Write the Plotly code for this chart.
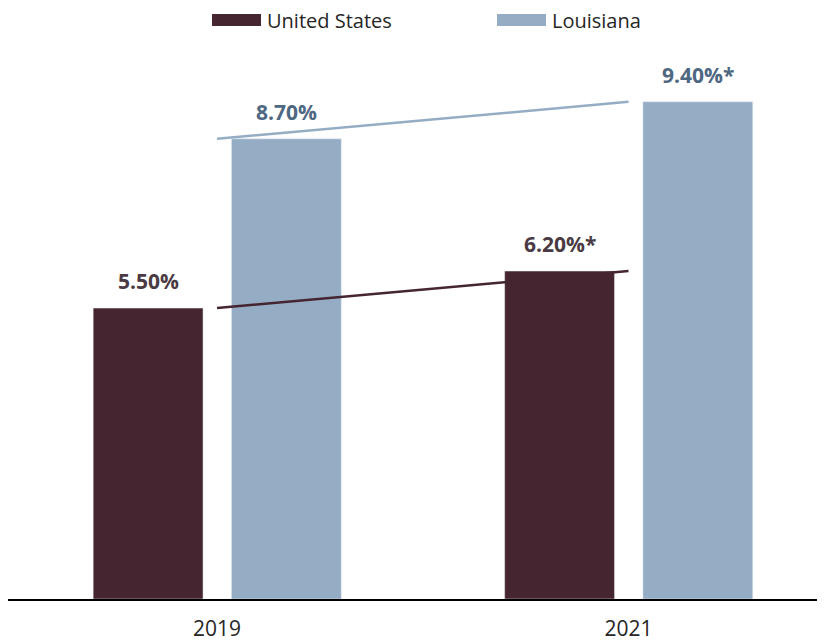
import plotly.graph_objects as go

years = ["2019", "2021"]
us_rate = [5.5, 6.2]
la_rate = [8.7, 9.4]
# asterisk flags on data labels
us_star = [False, True]
la_star = [False, True]

US_COL = "#45252F"
LA_COL = "#94ADC5"
US_TXT = "#4A3A43"
LA_TXT = "#4E6782"
FONT = "Open Sans"

x = list(range(len(years)))
W = 0.267


def labels(vals, stars):
    return [f"{v:.2f}%" + ("*" if s else "") for v, s in zip(vals, stars)]


fig = go.Figure()
fig.add_trace(go.Bar(x=x, y=us_rate, name="United States", marker_color=US_COL,
                     width=W, offset=-0.301, showlegend=False))
fig.add_trace(go.Bar(x=x, y=la_rate, name="Louisiana", marker_color=LA_COL,
                     width=W, offset=0.035, showlegend=False))
# trend lines between group centres
fig.add_trace(go.Scatter(x=x, y=us_rate, mode="lines", line=dict(color=US_COL, width=2.5),
                         showlegend=False, hoverinfo="skip"))
fig.add_trace(go.Scatter(x=x, y=la_rate, mode="lines", line=dict(color=LA_COL, width=2.5),
                         showlegend=False, hoverinfo="skip"))

# data labels above bars
for xi, v, t in zip(x, us_rate, labels(us_rate, us_star)):
    fig.add_annotation(x=xi - 0.301 + W / 2, y=v, text=f"<b>{t}</b>", showarrow=False,
                       yanchor="bottom", yshift=11, font=dict(family=FONT, size=21, color=US_TXT))
for xi, v, t in zip(x, la_rate, labels(la_rate, la_star)):
    fig.add_annotation(x=xi + 0.035 + W / 2, y=v, text=f"<b>{t}</b>", showarrow=False,
                       yanchor="bottom", yshift=11, font=dict(family=FONT, size=21, color=LA_TXT))

# legend drawn by hand to get the wide swatches (plot area spans screen x 8..833, y 60..599)
PW, PH = 825, 539
for x0, col, name in [(212, US_COL, "United States"), (497, LA_COL, "Louisiana")]:
    fig.add_shape(type="rect", xref="paper", yref="paper",
                  x0=(x0 - 8) / PW, x1=(x0 + 49 - 8) / PW,
                  y0=(599 - 26) / PH, y1=(599 - 14) / PH,
                  fillcolor=col, line_width=0)
    fig.add_annotation(xref="paper", yref="paper", x=(x0 + 53 - 8) / PW, y=(599 - 20) / PH,
                       xanchor="left", yanchor="middle", text=name, showarrow=False,
                       font=dict(family=FONT, size=20, color="#262626"))

fig.update_layout(
    width=825, height=641, barmode="overlay",
    margin=dict(l=0, r=0, t=52, b=50),
    plot_bgcolor="white", paper_bgcolor="white",
    font=dict(family=FONT, size=18, color="#262626"),
)
fig.update_xaxes(range=[-0.508, 1.497], tickvals=x, ticktext=years, showgrid=False,
                 zeroline=False, showline=True, linecolor="#000000", linewidth=1.5,
                 ticks="", ticklabelstandoff=10,
                 tickfont=dict(family=FONT, size=21, color="#262626"))
fig.update_yaxes(range=[0, 10.19], visible=False, showgrid=False)

fig.write_html("out.html")
